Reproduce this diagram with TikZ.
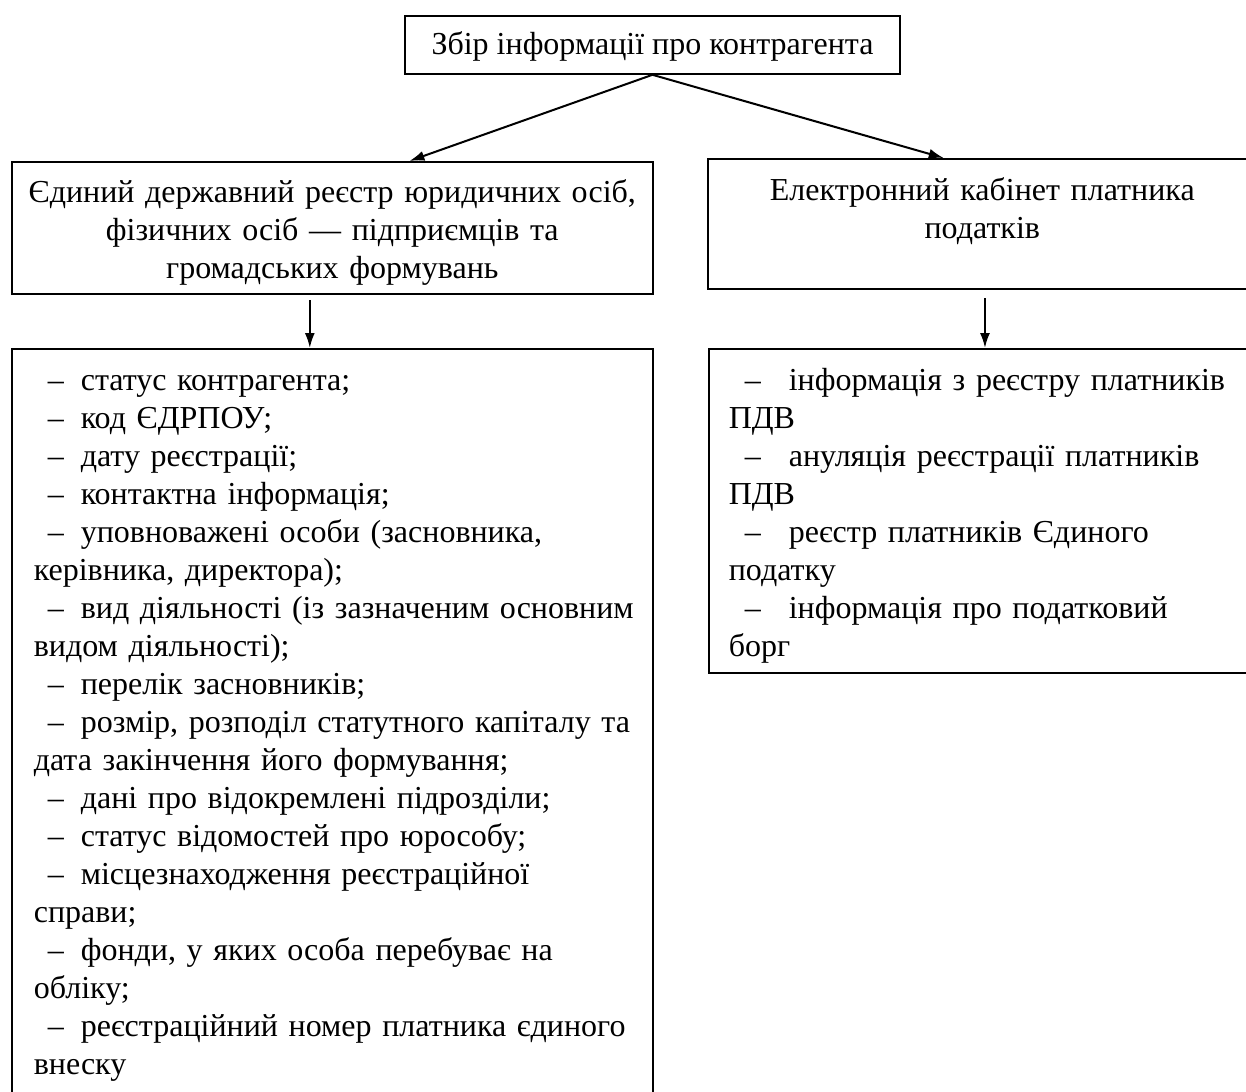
\documentclass[tikz,border=0pt]{standalone}
\usepackage{fontspec}
\setmainfont{Liberation Serif}
\usetikzlibrary{arrows.meta,calc}

\newcommand{\itm}[3][14pt]{\mbox{\hspace*{#1}\makebox[#2][l]{–}#3}}

\begin{document}
\begin{tikzpicture}[x=1pt,y=-1pt,font=\fontsize{32}{38}\selectfont,
   box/.style={draw,line width=1.6pt,inner ysep=0pt},
   arr/.style={line width=2pt,-{Latex[length=15pt,width=10pt]}}]
   \useasboundingbox (0,0) rectangle (1246,1091);
   \node[box,minimum width=495,text height=39,text depth=19] (top) at (652.5,45) {Збір інформації про контрагента};
   \node[box,anchor=north west,inner xsep=4pt,text width=633,align=center,text height=41,text depth=91] (lhead) at (11,161)
      {Єдиний державний реєстр юридичних осіб,\\фізичних осіб — підприємців та\\громадських формувань};
   \node[box,anchor=north west,inner xsep=10pt,text width=529,align=center,text height=42,text depth=88] (rhead) at (707,158)
      {Електронний кабінет платника\\податків};
   \node[box,anchor=north west,inner xsep=22pt,text width=597,align=left,text height=42,text depth=800] (llist) at (11,348)
      {\itm{33pt}{статус контрагента;}\\
       \itm{33pt}{код ЄДРПОУ;}\\
       \itm{33pt}{дату реєстрації;}\\
       \itm{33pt}{контактна інформація;}\\
       \itm{33pt}{уповноважені особи (засновника,}\\
       керівника, директора);\\
       \itm{33pt}{вид діяльності (із зазначеним основним}\\
       видом діяльності);\\
       \itm{33pt}{перелік засновників;}\\
       \itm{33pt}{розмір, розподіл статутного капіталу та}\\
       дата закінчення його формування;\\
       \itm{33pt}{дані про відокремлені підрозділи;}\\
       \itm{33pt}{статус відомостей про юрособу;}\\
       \itm{33pt}{місцезнаходження реєстраційної}\\
       справи;\\
       \itm{33pt}{фонди, у яких особа перебуває на}\\
       обліку;\\
       \itm{33pt}{реєстраційний номер платника єдиного}\\
       внеску};
   \node[box,anchor=north west,inner xsep=20pt,text width=509,align=left,text height=42,text depth=282] (rlist) at (708,348)
      {\itm[16pt]{44pt}{інформація з реєстру платників}\\
       ПДВ\\
       \itm[16pt]{44pt}{ануляція реєстрації платників}\\
       ПДВ\\
       \itm[16pt]{44pt}{реєстр платників Єдиного}\\
       податку\\
       \itm[16pt]{44pt}{інформація про податковий}\\
       борг};
   \coordinate (lto) at ($(llist.north west)!0.465!(llist.north east)$);
   \coordinate (lfrom) at ($(lto)+(0,-48)$);
   \coordinate (rto) at ($(rlist.north west)!0.503!(rlist.north east)$);
   \coordinate (rfrom) at ($(rto)+(0,-50)$);
   \draw[arr] (top.south) -- ($(lhead.north west)!0.62!(lhead.north east)$);
   \draw[arr] (top.south) -- ($(rhead.north west)!0.43!(rhead.north east)$);
   \draw[arr] (lfrom) -- (lto);
   \draw[arr] (rfrom) -- (rto);
\end{tikzpicture}
\end{document}
